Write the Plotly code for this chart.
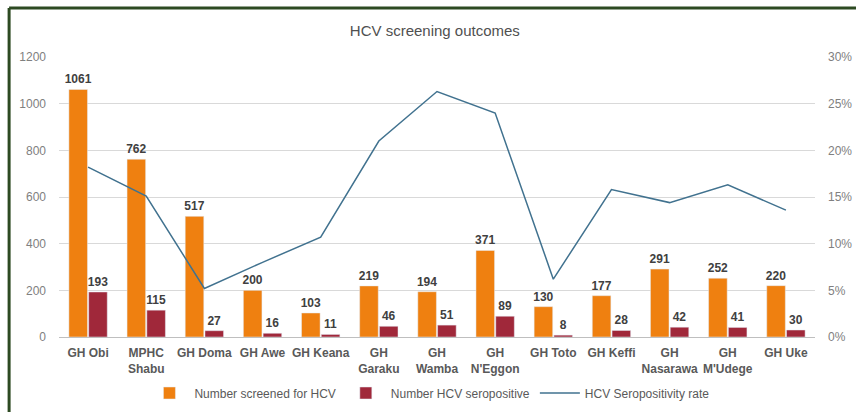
import plotly.graph_objects as go

facilities = ["GH Obi", "MPHC<br>Shabu", "GH Doma", "GH Awe", "GH Keana", "GH<br>Garaku", "GH<br>Wamba",
              "GH<br>N'Eggon", "GH Toto", "GH Keffi", "GH<br>Nasarawa", "GH<br>M'Udege", "GH Uke"]
screened = [1061, 762, 517, 200, 103, 219, 194, 371, 130, 177, 291, 252, 220]
seropositive = [193, 115, 27, 16, 11, 46, 51, 89, 8, 28, 42, 41, 30]
rate = [0.182, 0.151, 0.052, 0.080, 0.107, 0.210, 0.263, 0.240, 0.062, 0.158, 0.144, 0.163, 0.136]

FONT = "Liberation Sans Narrow, Liberation Sans, Arial, sans-serif"

fig = go.Figure()
fig.add_trace(go.Bar(
    x=facilities, y=screened, name="Number screened for HCV",
    marker=dict(color="#EF8010"),
    text=screened, textposition="outside", constraintext="none",
    textfont=dict(family=FONT, size=12, color="#404040", weight="bold"),
    cliponaxis=False,
))
fig.add_trace(go.Bar(
    x=facilities, y=seropositive, name="Number HCV seropositive",
    marker=dict(color="#A0283A"),
    text=seropositive, textposition="outside", constraintext="none",
    textfont=dict(family=FONT, size=12, color="#404040", weight="bold"),
    cliponaxis=False,
))
fig.add_trace(go.Scatter(
    x=facilities, y=rate, name="HCV Seropositivity rate", yaxis="y2",
    mode="lines", line=dict(color="#41728F", width=1.5),
))

fig.update_layout(
    width=856, height=412,
    margin=dict(l=59, r=41, t=57, b=75, autoexpand=False),
    paper_bgcolor="white", plot_bgcolor="white",
    font=dict(family=FONT, size=12, color="#595959"),
    title=dict(text="HCV screening outcomes", x=0.508, xanchor="center", y=0.925, yanchor="middle",
               font=dict(family=FONT, size=15, color="#505050")),
    barmode="group", bargap=0.32, bargroupgap=0.06,
    xaxis=dict(showgrid=False, showline=True, linecolor="#BFBFBF", linewidth=1, automargin=False,
               tickfont=dict(family=FONT, size=12, color="#595959", weight="bold"), ticks="",
               ticklabelstandoff=5),
    yaxis=dict(range=[0, 1200], dtick=200, showgrid=True, gridcolor="#D9D9D9", gridwidth=1,
               zeroline=False, automargin=False,
               tickfont=dict(family=FONT, size=12, color="#808080"), ticklabelstandoff=12),
    yaxis2=dict(range=[0, 0.30], dtick=0.05, tickformat=".0%", overlaying="y", side="right",
                showgrid=False, zeroline=False, automargin=False,
                tickfont=dict(family=FONT, size=12, color="#808080"), ticklabelstandoff=12),
    legend=dict(orientation="h", x=0.49, xanchor="center", y=-0.2, yanchor="middle",
                font=dict(family=FONT, size=12, color="#595959"), traceorder="normal",
                itemwidth=40),
    showlegend=True,
    shapes=[
        dict(type="line", xref="paper", yref="paper", x0=-0.066, x1=-0.066, y0=-0.4, y1=1.175,
             line=dict(color="#2D4A22", width=3)),
        dict(type="line", xref="paper", yref="paper", x0=-0.066, x1=1.1, y0=1.175, y1=1.175,
             line=dict(color="#2D4A22", width=3)),
    ],
)

fig.write_html("out.html", config={"displayModeBar": False},
               post_script="document.body.style.margin='0';document.body.style.overflow='hidden';")
